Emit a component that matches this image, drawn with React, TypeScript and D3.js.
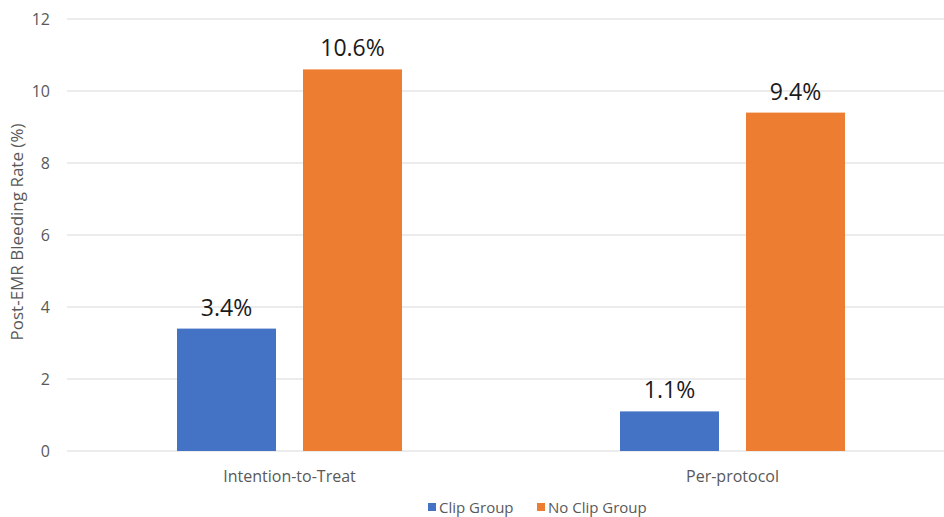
import React from "react";
import * as d3 from "d3";

const categories = ["Intention-to-Treat", "Per-protocol"];
const seriesNames = ["Clip Group", "No Clip Group"];
const clipValues = [3.4, 1.1];
const noClipValues = [10.6, 9.4];
const yTicks = [0, 2, 4, 6, 8, 10, 12];
const colors = ["#4472C4", "#ED7D31"];

const W = 944;
const H = 517;
const left = 68;
const right = 954;
const top = 19;
const bottom = 451;
const font = "'Open Sans', 'Noto Sans', sans-serif";

export default function App() {
  const x = d3.scaleBand<string>().domain(categories).range([left, right]).paddingInner(0).paddingOuter(0);
  const y = d3.scaleLinear().domain([0, 12]).range([bottom, top]);
  const groupW = 225;
  const x1 = d3.scaleBand<string>().domain(seriesNames).range([0, groupW]).paddingInner(27 / 126);
  const series = [clipValues, noClipValues];

  return (
    <svg width={W} height={H} style={{ position: "absolute", left: 0, top: 0, background: "#fff" }}>
      {yTicks.map((t) => (
        <g key={t}>
          <line x1={left - 1} x2={right} y1={y(t)} y2={y(t)} stroke="#d9d9d9" strokeWidth={1} />
          <text x={50} y={y(t) + 6} textAnchor="end" fontFamily={font} fontSize={16} fill="#595959">
            {t}
          </text>
        </g>
      ))}
      {categories.map((c, ci) => {
        const gx = (x(c) as number) + x.bandwidth() / 2 - groupW / 2;
        return (
          <g key={c}>
            {series.map((vals, si) => {
              const bx = gx + (x1(seriesNames[si]) as number);
              const bw = x1.bandwidth();
              return (
                <g key={si}>
                  <rect x={bx} y={y(vals[ci])} width={bw} height={bottom - y(vals[ci])} fill={colors[si]} />
                  <text
                    x={bx + bw / 2}
                    y={y(vals[ci]) - 13}
                    textAnchor="middle"
                    fontFamily={font}
                    fontSize={23}
                    fill="#1a1a1a"
                  >
                    {vals[ci].toFixed(1)}%
                  </text>
                </g>
              );
            })}
            <text
              x={(x(c) as number) + x.bandwidth() / 2}
              y={482}
              textAnchor="middle"
              fontFamily={font}
              fontSize={16}
              fill="#595959"
            >
              {c}
            </text>
          </g>
        );
      })}
      <text
        transform={`translate(23, 232) rotate(-90)`}
        textAnchor="middle"
        fontFamily={font}
        fontSize={17}
        fill="#595959"
      >
        Post-EMR Bleeding Rate (%)
      </text>
      <g>
        <rect x={428} y={503} width={8} height={8} fill={colors[0]} />
        <text x={439} y={513} fontFamily={font} fontSize={15} fill="#595959">
          {seriesNames[0]}
        </text>
        <rect x={537} y={503} width={8} height={8} fill={colors[1]} />
        <text x={548} y={513} fontFamily={font} fontSize={15} fill="#595959">
          {seriesNames[1]}
        </text>
      </g>
    </svg>
  );
}
